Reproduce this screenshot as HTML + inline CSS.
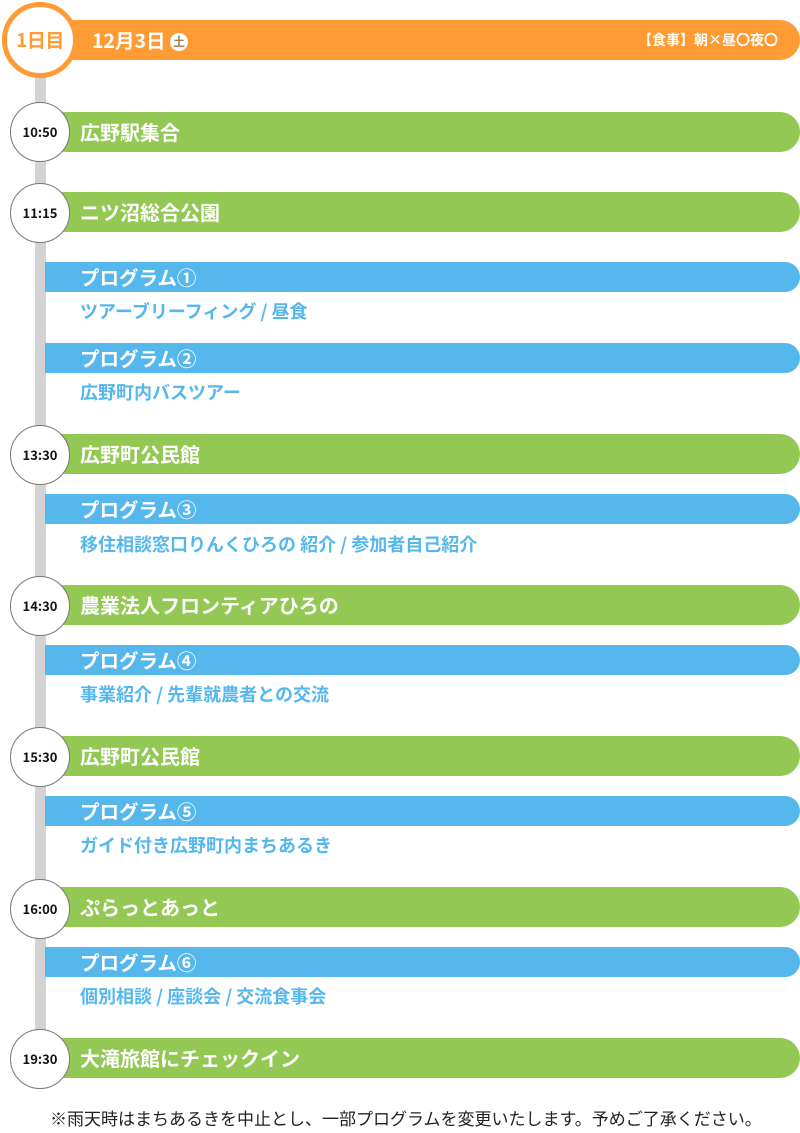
<!DOCTYPE html>
<html><head><meta charset="utf-8"><style>
body{margin:0;width:800px;height:1133px;background:#fff;position:relative;overflow:hidden;font-family:"Noto Sans CJK JP","Liberation Sans",sans-serif;font-weight:bold}
.a{position:absolute}
.line{left:35px;top:60px;width:11px;height:990px;background:#d3d3d3}
.g{left:45px;right:0;height:40px;background:#92c853;border-radius:0 20px 20px 0;color:#fff;font-size:20px;line-height:40px;padding-left:35px;box-sizing:border-box}
.b{left:45px;right:0;height:30px;background:#55b7ec;border-radius:0 15px 15px 0;color:#fff;font-size:19.5px;line-height:30px;padding-left:35px;box-sizing:border-box}
.s{left:80px;color:#55b7ec;font-size:18px;line-height:20px}
.c{left:10px;width:58px;height:58px;border:1px solid #777;border-radius:50%;background:#fff;color:#111;font-size:13px;line-height:58px;text-align:center}
</style></head><body>
<div class="a line"></div>
<div class="a" style="left:60px;right:0;top:20px;height:40px;background:#ff9b34;border-radius:0 20px 20px 0"></div>
<div class="a" style="left:92px;top:20px;line-height:40px;color:#fff;font-size:19.5px">12月3日 <span style="display:inline-block;width:18px;height:18px;border-radius:50%;background:#fff;color:#a0804f;font-size:12px;line-height:18px;text-align:center;vertical-align:2px">土</span></div>
<div class="a" style="right:22px;top:20px;line-height:40px;color:#fff;font-size:14px">【食事】朝×昼〇夜〇</div>
<div class="a" style="left:2px;top:2px;width:66px;height:66px;border:5px solid #ff9b34;border-radius:50%;background:#fff;color:#ff9b34;font-size:19px;line-height:66px;text-align:center;letter-spacing:-0.5px">1日目</div>

<div class="a g" style="top:112px">広野駅集合</div><div class="a c" style="top:102px">10:50</div>
<div class="a g" style="top:192px">ニツ沼総合公園</div><div class="a c" style="top:183px">11:15</div>
<div class="a b" style="top:262px">プログラム①</div><div class="a s" style="top:301px">ツアーブリーフィング / 昼食</div>
<div class="a b" style="top:343px">プログラム②</div><div class="a s" style="top:382px">広野町内バスツアー</div>
<div class="a g" style="top:434px">広野町公民館</div><div class="a c" style="top:425px">13:30</div>
<div class="a b" style="top:494px">プログラム③</div><div class="a s" style="top:534px">移住相談窓口りんくひろの 紹介 / 参加者自己紹介</div>
<div class="a g" style="top:585px">農業法人フロンティアひろの</div><div class="a c" style="top:576px">14:30</div>
<div class="a b" style="top:645px">プログラム④</div><div class="a s" style="top:684px">事業紹介 / 先輩就農者との交流</div>
<div class="a g" style="top:736px">広野町公民館</div><div class="a c" style="top:727px">15:30</div>
<div class="a b" style="top:796px">プログラム⑤</div><div class="a s" style="top:835px">ガイド付き広野町内まちあるき</div>
<div class="a g" style="top:887px">ぷらっとあっと</div><div class="a c" style="top:879px">16:00</div>
<div class="a b" style="top:947px">プログラム⑥</div><div class="a s" style="top:986px">個別相談 / 座談会 / 交流食事会</div>
<div class="a g" style="top:1038px">大滝旅館にチェックイン</div><div class="a c" style="top:1029px">19:30</div>
<div class="a" style="left:50px;top:1107px;font-size:17px;line-height:22px;color:#222;font-weight:normal;white-space:nowrap">※雨天時はまちあるきを中止とし、一部プログラムを変更いたします。予めご了承ください。</div>
</body></html>
